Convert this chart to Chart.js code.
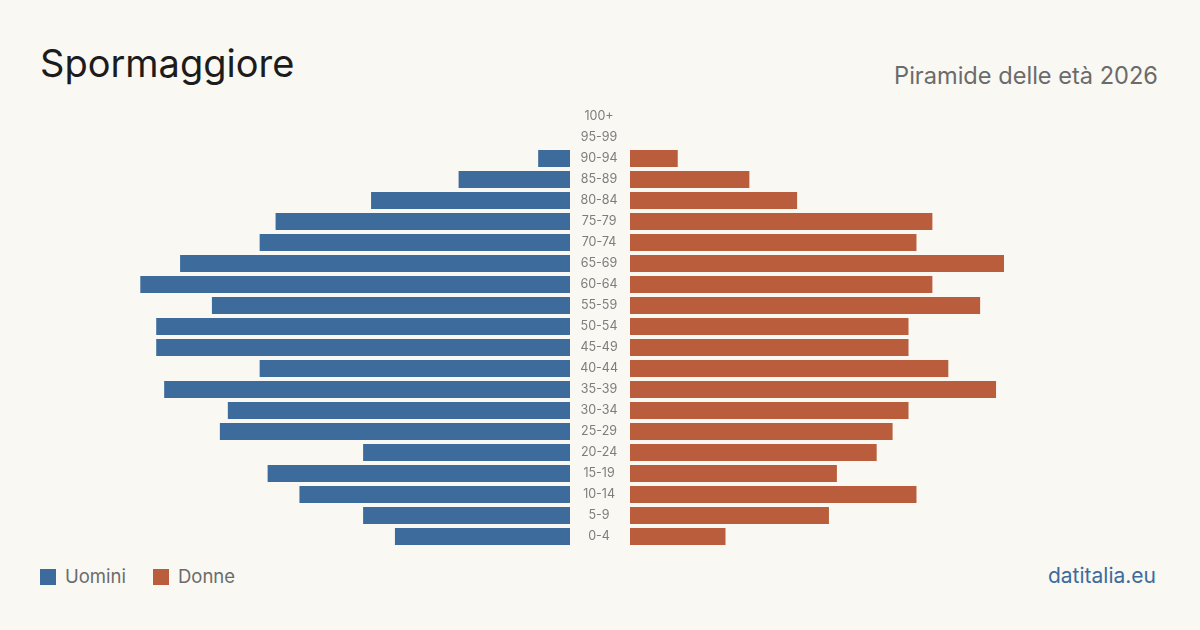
<!DOCTYPE html>
<html>
<head>
<meta charset="utf-8">
<script src="https://cdn.jsdelivr.net/npm/chart.js@4/dist/chart.umd.min.js"></script>
<style>
  html, body { margin: 0; padding: 0; }
  body {
    width: 1200px; height: 630px; overflow: hidden; position: relative;
    background: #f9f8f3; font-family: Inter, "Noto Sans", sans-serif;
  }
  #title { position: absolute; left: 40px; top: 44px; font-size: 38px; color: #1c1c1c; line-height: 1; }
  #subtitle { position: absolute; right: 42px; top: 64px; font-size: 23.6px; color: #6b6b6b; line-height: 1; }
  #wrapLeft { position: absolute; left: 122px; top: 106px; width: 448px; height: 441px; }
  #wrapRight { position: absolute; left: 570px; top: 106px; width: 508px; height: 441px; }
  .legend { position: absolute; top: 565px; font-size: 18.5px; color: #6b6b6b; line-height: 22px; }
  .sw { display: inline-block; width: 16px; height: 16px; vertical-align: -2px; margin-right: 9px; }
  #source { position: absolute; right: 44px; top: 563px; font-size: 21px; color: #3d6b9c; }
</style>
</head>
<body>
<div id="title">Spormaggiore</div>
<div id="subtitle">Piramide delle età 2026</div>
<div id="wrapLeft"><canvas id="chartLeft"></canvas></div>
<div id="wrapRight"><canvas id="chartRight"></canvas></div>
<div class="legend" style="left:40px"><span class="sw" style="background:#3d6b9c"></span>Uomini</div>
<div class="legend" style="left:153px"><span class="sw" style="background:#b95d3c"></span>Donne</div>
<div id="source">datitalia.eu</div>

<script>
"use strict";

// age groups, top to bottom as in the pyramid
const ageGroups = ["100+", "95-99", "90-94", "85-89", "80-84", "75-79", "70-74", "65-69", "60-64", "55-59",
  "50-54", "45-49", "40-44", "35-39", "30-34", "25-29", "20-24", "15-19", "10-14", "5-9", "0-4"];
const men = [0, 0, 4, 14, 25, 37, 39, 49, 54, 45, 52, 52, 39, 51, 43, 44, 26, 38, 34, 26, 22];
const women = [0, 0, 6, 15, 21, 38, 36, 47, 38, 44, 35, 35, 40, 46, 35, 33, 31, 26, 36, 25, 12];
const axisMax = 56.3;

const blue = "#3d6b9c";
const orange = "#b95d3c";

function baseOptions(reverse) {
  return {
    indexAxis: "y",
    responsive: true,
    maintainAspectRatio: false,
    animation: false,
    layout: { padding: 0 },
    plugins: { legend: { display: false }, tooltip: { enabled: false } },
    scales: {
      x: {
        display: false,
        min: 0,
        max: axisMax,
        reverse: reverse,
      },
      y: {
        display: false,
        grid: { display: false },
      },
    },
  };
}

let leftOpts = baseOptions(true);
new Chart(document.getElementById("chartLeft"), {
  type: "bar",
  data: {
    labels: ageGroups,
    datasets: [{
      label: "Uomini",
      data: men,
      backgroundColor: blue,
      barPercentage: 0.81,
      categoryPercentage: 1,
    }],
  },
  options: leftOpts,
});

let rightOpts = baseOptions(false);
rightOpts.scales.y = {
  display: true,
  position: "left",
  grid: { display: false, drawTicks: false },
  border: { display: false },
  ticks: {
    color: "#7d7d7d",
    font: { family: "Inter", size: 12.5 },
    crossAlign: "center",
    padding: 12,
  },
  afterFit: function (scale) {
    // fixed centre column, no extra room for the end labels
    scale.width = 60;
    scale.paddingTop = 0;
    scale.paddingBottom = 0;
  },
};
new Chart(document.getElementById("chartRight"), {
  type: "bar",
  data: {
    labels: ageGroups,
    datasets: [{
      label: "Donne",
      data: women,
      backgroundColor: orange,
      barPercentage: 0.81,
      categoryPercentage: 1,
    }],
  },
  options: rightOpts,
});
</script>
</body>
</html>
